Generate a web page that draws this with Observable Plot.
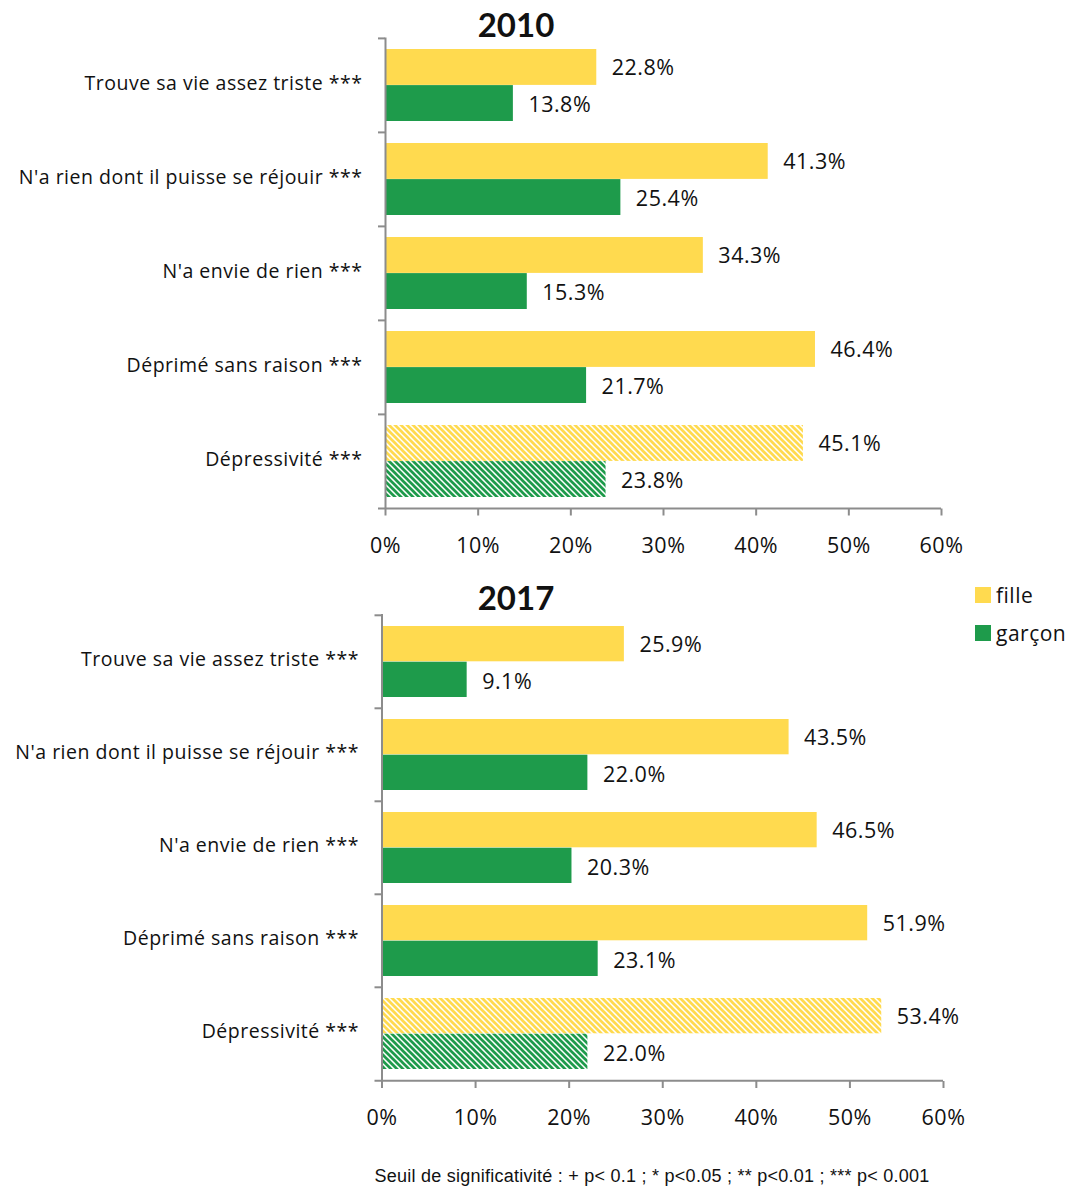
<!DOCTYPE html>
<html>
<head>
<meta charset="utf-8">
<script src="https://cdn.jsdelivr.net/npm/d3@7"></script>
<script src="https://cdn.jsdelivr.net/npm/@observablehq/plot@0.6"></script>
<style>
  html, body { margin: 0; padding: 0; background: #fff; }
  #root { position: relative; width: 1072px; height: 1189px; font-family: "Open Sans", Lato, sans-serif; color: #111; }
  .chart { position: absolute; left: 0; }
  .title { position: absolute; font-family: Lato, sans-serif; font-weight: bold; font-size: 33px; transform: translateX(-50%); line-height: 1; }
  .legend { position: absolute; left: 975px; font-size: 21px; letter-spacing: 0.5px; }
  .legend div { display: flex; align-items: center; height: 38px; }
  .legend span.sw { display: inline-block; width: 16px; height: 16px; margin-right: 5px; }
  .foot { position: absolute; top: 1166px; left: 652px; transform: translateX(-50%); font-family: "Liberation Sans", Arial, sans-serif; font-size: 18px; letter-spacing: 0.25px; white-space: nowrap; }
</style>
</head>
<body>
<div id="root"></div>
<script>
const categories = ["Trouve sa vie assez triste ***", "N'a rien dont il puisse se réjouir ***", "N'a envie de rien ***", "Déprimé sans raison ***", "Dépressivité ***"];
const fille2010 = [22.8, 41.3, 34.3, 46.4, 45.1];
const garcon2010 = [13.8, 25.4, 15.3, 21.7, 23.8];
const fille2017 = [25.9, 43.5, 46.5, 51.9, 53.4];
const garcon2017 = [9.1, 22.0, 20.3, 23.1, 22.0];
const xTicks = [0, 10, 20, 30, 40, 50, 60];
const seriesNames = ["fille", "garçon"];
const hatchedCategory = "Dépressivité ***";

const YELLOW = "#FFDA4F";
const GREEN = "#1E9B4B";
const AXIS = "#8c8c8c";
const NUMFONT = "21.5px";

const root = document.getElementById("root");

function makeChart({fille, garcon, top, height, mTop, mBottom, mLeft, mRight, tag, tickPad}) {
  const rows = [];
  categories.forEach((c, i) => {
    rows.push({cat: c, serie: "fille", v: fille[i]});
    rows.push({cat: c, serie: "garçon", v: garcon[i]});
  });
  const plotH = height - mTop - mBottom;
  const bw = plotH / categories.length;
  const plotW = 1072 - mLeft - mRight;
  const fillOf = d => d.cat === hatchedCategory
    ? `url(#hatch-${d.serie === "fille" ? "y" : "g"}-${tag})`
    : (d.serie === "fille" ? YELLOW : GREEN);
  const barTop = 11, barH = (bw - 22) / 2;
  const svg = Plot.plot({
    width: 1072,
    height,
    marginTop: mTop,
    marginBottom: mBottom,
    marginLeft: mLeft,
    marginRight: mRight,
    style: {fontFamily: "'Open Sans', Lato, sans-serif", fontSize: "19.5px", letterSpacing: "0.5px", color: "#111", background: "transparent"},
    x: {domain: [0, 60]},
    y: {domain: categories, padding: 0},
    marks: [
      Plot.barX(rows.filter(d => d.serie === "fille"), {x: "v", y: "cat", fill: fillOf, insetTop: barTop, insetBottom: bw - barTop - barH}),
      Plot.barX(rows.filter(d => d.serie === "garçon"), {x: "v", y: "cat", fill: fillOf, insetTop: barTop + barH, insetBottom: barTop}),
      Plot.text(rows.filter(d => d.serie === "fille"), {x: "v", y: "cat", text: d => d.v.toFixed(1) + "%", textAnchor: "start", dx: 15, dy: -bw / 2 + barTop + barH / 2 + 1, fill: "#111", fontSize: NUMFONT}),
      Plot.text(rows.filter(d => d.serie === "garçon"), {x: "v", y: "cat", text: d => d.v.toFixed(1) + "%", textAnchor: "start", dx: 15, dy: -bw / 2 + barTop + barH * 1.5 + 2, fill: "#111", fontSize: NUMFONT}),
      // category boundary ticks
      Plot.ruleY(categories, {y: d => d, dy: -bw / 2, insetLeft: -7, insetRight: plotW, stroke: AXIS, strokeWidth: 2}),
      // axis lines
      Plot.ruleX([0], {stroke: AXIS, strokeWidth: 2}),
      Plot.ruleY([categories[categories.length - 1]], {dy: bw / 2, insetLeft: -7, stroke: AXIS, strokeWidth: 2}),
      Plot.axisX({ticks: xTicks, tickFormat: d => d + "%", tickSize: 7, tickPadding: tickPad, stroke: AXIS, strokeWidth: 2, fill: "#111", fontSize: NUMFONT, label: null}),
      Plot.axisY({tickSize: 0, tickPadding: 23, dy: -2, fill: "#111", label: null})
    ]
  });
  // hatch patterns
  const defs = d3.select(svg).insert("defs", ":first-child");
  [["y", YELLOW], ["g", GREEN]].forEach(([k, col]) => {
    const p = defs.append("pattern")
      .attr("id", `hatch-${k}-${tag}`)
      .attr("patternUnits", "userSpaceOnUse")
      .attr("width", 6).attr("height", 6);
    p.append("rect").attr("width", 6).attr("height", 6).attr("fill", "#fff");
    p.append("path")
      .attr("d", "M-1.5,-1.5L7.5,7.5M-1.5,4.5L1.5,7.5M4.5,-1.5L7.5,1.5")
      .attr("stroke", col).attr("stroke-width", 2.7).attr("fill", "none");
  });
  svg.classList.add("chart");
  svg.style.top = top + "px";
  root.appendChild(svg);
}

makeChart({fille: fille2010, garcon: garcon2010, top: 0, height: 570, mTop: 37.5, mBottom: 570 - 508.5, mLeft: 385, mRight: 1072 - 941, tag: "a", tickPad: 22});
makeChart({fille: fille2017, garcon: garcon2017, top: 570, height: 570, mTop: 614 - 570, mBottom: 570 - (1081 - 570), mLeft: 381.5, mRight: 1072 - 943, tag: "b", tickPad: 21});

function addTitle(text, cx, top) {
  const t = document.createElement("div");
  t.className = "title"; t.textContent = text;
  t.style.left = cx + "px"; t.style.top = top + "px";
  root.appendChild(t);
}
addTitle("2010", 516, 8);
addTitle("2017", 516, 581);

const legend = document.createElement("div");
legend.className = "legend";
legend.style.top = "576px";
seriesNames.forEach((n, i) => {
  const row = document.createElement("div");
  const sw = document.createElement("span");
  sw.className = "sw"; sw.style.background = i === 0 ? YELLOW : GREEN;
  row.appendChild(sw);
  row.appendChild(document.createTextNode(n));
  legend.appendChild(row);
});
root.appendChild(legend);

const foot = document.createElement("div");
foot.className = "foot";
foot.textContent = "Seuil de significativité : + p< 0.1 ; * p<0.05 ; ** p<0.01 ; *** p< 0.001";
root.appendChild(foot);
</script>
</body>
</html>
